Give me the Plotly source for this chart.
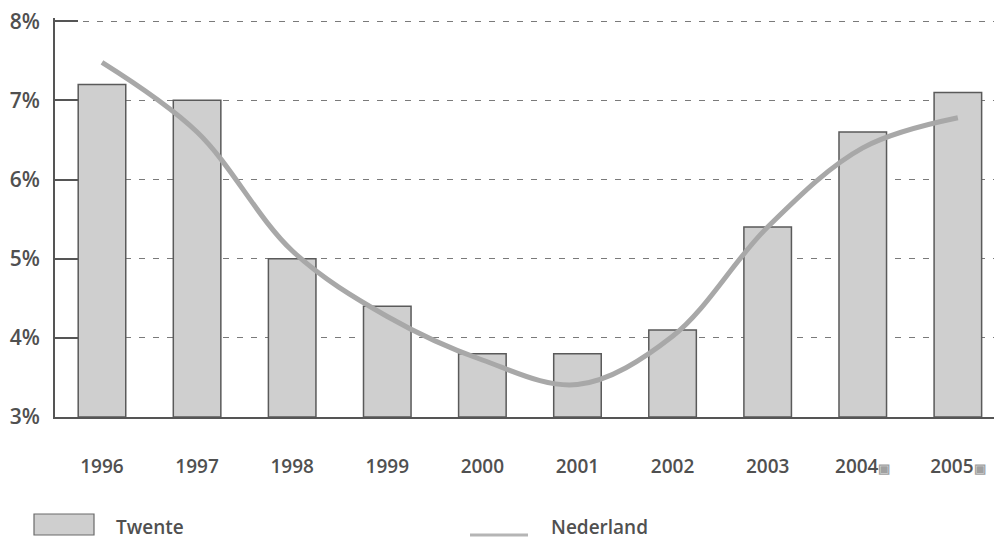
import plotly.graph_objects as go

years = ["1996", "1997", "1998", "1999", "2000", "2001", "2002", "2003", "2004", "2005"]
tick_labels = ["1996", "1997", "1998", "1999", "2000", "2001", "2002", "2003",
               "2004<span style='font-size:13px;color:#a0a0a0'>▣</span>",
               "2005<span style='font-size:13px;color:#a0a0a0'>▣</span>"]
twente = [7.2, 7.0, 5.0, 4.4, 3.8, 3.8, 4.1, 5.4, 6.6, 7.1]
nederland = [7.48, 6.6, 5.1, 4.27, 3.72, 3.41, 4.02, 5.4, 6.4, 6.78]
y_ticks = [3, 4, 5, 6, 7, 8]
y_tick_labels = ["3%", "4%", "5%", "6%", "7%", "8%"]

xpos = list(range(len(years)))
FONT = "Open Sans"
TXT = "#505050"

fig = go.Figure()
fig.add_trace(go.Bar(
    x=xpos, y=[v - 3 for v in twente], base=3, width=0.5, name="Twente",
    marker=dict(color="#cfcfcf", line=dict(color="#5a5a5a", width=1.5)),
    showlegend=False,
))
fig.add_trace(go.Scatter(
    x=xpos, y=nederland, mode="lines", name="Nederland",
    line=dict(color="#a8a8a8", width=5, shape="spline", smoothing=1.0),
    showlegend=False,
))

fig.update_layout(
    width=994, height=541,
    margin=dict(l=55, r=0, t=18, b=124),
    paper_bgcolor="white", plot_bgcolor="white",
    font=dict(family=FONT, color=TXT, size=20),
    bargap=0.5,
)
fig.update_xaxes(
    range=[-0.494, 9.38], tickvals=xpos, ticktext=tick_labels,
    showline=True, linecolor="#555555", linewidth=2,
    showgrid=False, ticks="", zeroline=False,
    tickfont=dict(family=FONT, size=19, color=TXT, weight=600),
    ticklabelstandoff=31,
)
fig.update_yaxes(
    range=[3, 8.04], tickvals=y_ticks, ticktext=y_tick_labels,
    showline=True, linecolor="#555555", linewidth=2,
    ticks="inside", ticklen=23, tickwidth=2, tickcolor="#555555",
    showgrid=True, gridcolor="#7a7a7a", gridwidth=1, griddash="6px,8px",
    zeroline=False,
    tickfont=dict(family=FONT, size=21, color=TXT, weight=600),
    ticklabelstandoff=9,
)

# legend drawn manually (paper coordinates)
W, H = 939.0, 399.0
def px(x):
    return (x - 55) / W
def py(y):
    return (417 - y) / H

fig.add_shape(type="rect", xref="paper", yref="paper",
              x0=px(34), x1=px(94), y0=py(535), y1=py(514),
              fillcolor="#cfcfcf", line=dict(color="#6a6a6a", width=1.2))
fig.add_shape(type="line", xref="paper", yref="paper",
              x0=px(470), x1=px(528), y0=py(535), y1=py(535),
              line=dict(color="#b5b5b5", width=3))
fig.add_annotation(xref="paper", yref="paper", x=px(114), y=py(527),
                   text="Twente", showarrow=False, xanchor="left", yanchor="middle",
                   font=dict(family=FONT, size=19, color=TXT, weight=600))
fig.add_annotation(xref="paper", yref="paper", x=px(549), y=py(527),
                   text="Nederland", showarrow=False, xanchor="left", yanchor="middle",
                   font=dict(family=FONT, size=19, color=TXT, weight=600))

fig.write_html("out.html")
